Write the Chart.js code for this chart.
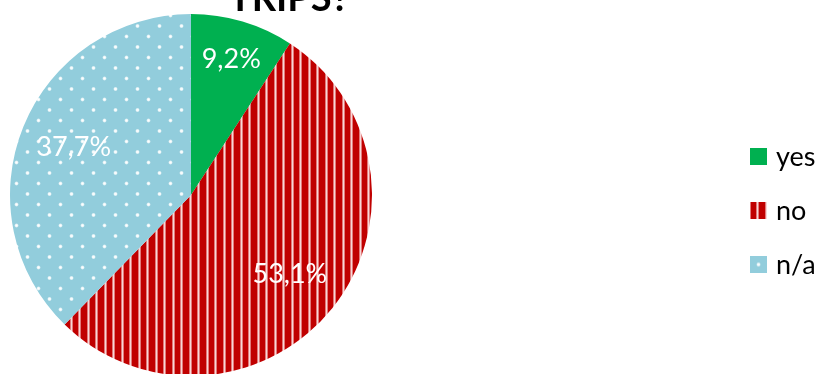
<!DOCTYPE html>
<html>
<head>
<meta charset="utf-8">
<script src="https://cdn.jsdelivr.net/npm/chart.js@4.4.1/dist/chart.umd.min.js"></script>
<style>
  html, body { margin: 0; padding: 0; background: #ffffff; overflow: hidden; }
  #wrap { position: relative; width: 822px; height: 374px; }
</style>
</head>
<body>
<div id="wrap"><canvas id="c" width="822" height="374"></canvas></div>
<script>
// Survey answers and their shares (percent)
const titleText = 'TRIPS?';
const categories = ['yes', 'no', 'n/a'];
const shares = [9.2, 53.1, 37.7];
const baseColors = ['#00B050', '#C00000', '#92CDDC'];

const FONT = 'Lato, "Open Sans", "Liberation Sans", sans-serif';

// Red fill with thin light vertical stripes
function stripePattern(ctx) {
  const t = document.createElement('canvas');
  t.width = 17; t.height = 4;
  const g = t.getContext('2d');
  g.fillStyle = '#C00000';
  g.fillRect(0, 0, 17, 4);
  [3, 11].forEach(x => {
    g.fillStyle = '#E27A7A';
    g.fillRect(x - 1, 0, 1, 4);
    g.fillRect(x + 1, 0, 1, 4);
    g.fillStyle = '#F8D6D6';
    g.fillRect(x, 0, 1, 4);
  });
  return ctx.createPattern(t, 'repeat');
}

// Light blue fill with small staggered white dots
function dotPattern(ctx) {
  const t = document.createElement('canvas');
  t.width = 22; t.height = 21;
  const g = t.getContext('2d');
  g.fillStyle = '#92CDDC';
  g.fillRect(0, 0, 22, 21);
  [[5.5, 5], [16.5, 15.5]].forEach(([x, y]) => {
    const rg = g.createRadialGradient(x, y, 0, x, y, 2.4);
    rg.addColorStop(0, 'rgba(255,255,255,1)');
    rg.addColorStop(0.5, 'rgba(255,255,255,0.85)');
    rg.addColorStop(1, 'rgba(255,255,255,0)');
    g.fillStyle = rg;
    g.beginPath();
    g.arc(x, y, 2.4, 0, Math.PI * 2);
    g.fill();
  });
  return ctx.createPattern(t, 'repeat');
}

const canvas = document.getElementById('c');
const ctx = canvas.getContext('2d');
const fills = [baseColors[0], stripePattern(ctx), dotPattern(ctx)];
// Pattern origin inside each legend swatch, so the swatch shows one stripe / one dot
const swatchShift = [[0, 0], [-4, 0], [3, 3.5]];

// Keep the pie on the left part of the canvas
const pieArea = {
  id: 'pieArea',
  afterLayout(chart) {
    chart.chartArea = { left: 10, top: 14, right: 372, bottom: 376, width: 362, height: 362 };
  }
};

// Percent labels inside each slice
const sliceLabels = {
  id: 'sliceLabels',
  afterDatasetsDraw(chart) {
    const meta = chart.getDatasetMeta(0);
    const c = chart.ctx;
    c.save();
    c.fillStyle = '#ffffff';
    c.font = '27px ' + FONT;
    c.textAlign = 'center';
    c.textBaseline = 'middle';
    meta.data.forEach((arc, i) => {
      const p = arc.getProps(['x', 'y', 'startAngle', 'endAngle', 'outerRadius'], true);
      const mid = (p.startAngle + p.endAngle) / 2;
      const f = shares[i] < 15 ? 0.78 : 0.70;
      const x = p.x + Math.cos(mid) * p.outerRadius * f;
      const y = p.y + Math.sin(mid) * p.outerRadius * f;
      c.fillText(shares[i].toFixed(1).replace('.', ',') + '%', x, y);
    });
    c.restore();
  }
};

// Legend on the right
const sideLegend = {
  id: 'sideLegend',
  afterDraw(chart) {
    const items = chart.options.plugins.legend.labels.generateLabels(chart);
    const c = chart.ctx;
    c.save();
    c.font = '27px ' + FONT;
    c.textAlign = 'left';
    c.textBaseline = 'middle';
    items.forEach((it, i) => {
      const cy = 156.5 + i * 54;
      const bx = 750, by = cy - 8.5;
      const [sx, sy] = swatchShift[i];
      c.save();
      c.translate(bx + sx, by + sy);
      c.fillStyle = it.fillStyle;
      c.fillRect(-sx, -sy, 17, 17);
      c.restore();
      c.fillStyle = '#000000';
      c.fillText(it.text, 776, cy + 1);
    });
    c.restore();
  }
};

// Chart title (runs off the top edge)
const topTitle = {
  id: 'topTitle',
  afterDraw(chart) {
    const c = chart.ctx;
    c.save();
    c.font = 'bold 38px ' + FONT;
    c.fillStyle = '#000000';
    c.textAlign = 'center';
    c.textBaseline = 'alphabetic';
    c.fillText(titleText, 289, 11);
    c.restore();
  }
};

new Chart(ctx, {
  type: 'pie',
  data: {
    labels: categories,
    datasets: [{
      data: shares,
      backgroundColor: fills,
      borderWidth: 0,
      hoverOffset: 0
    }]
  },
  options: {
    responsive: false,
    animation: false,
    events: [],
    layout: { padding: 0 },
    plugins: {
      legend: { display: false },
      tooltip: { enabled: false },
      title: { display: false }
    }
  },
  plugins: [pieArea, sliceLabels, sideLegend, topTitle]
});
</script>
</body>
</html>
